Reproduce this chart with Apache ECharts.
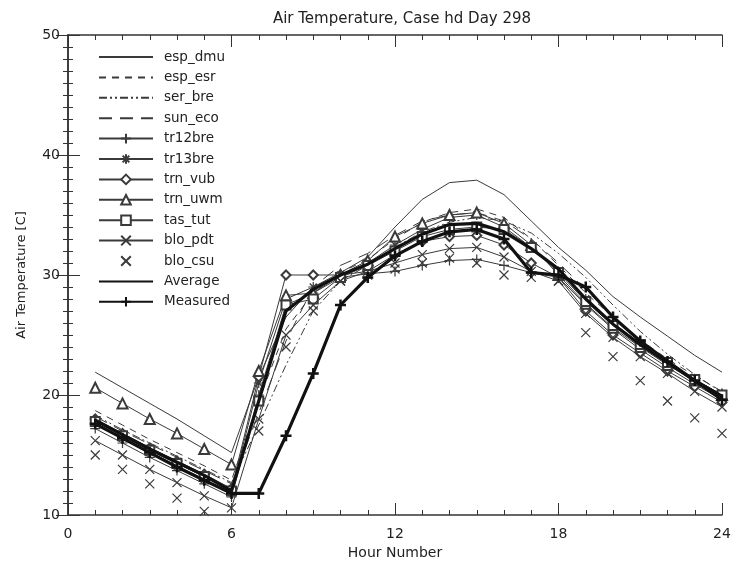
<!DOCTYPE html>
<html><head><meta charset="utf-8">
<script src="https://cdn.jsdelivr.net/npm/echarts@6/dist/echarts.min.js"></script>
<style>html,body{margin:0;padding:0;background:#fff}#c{width:741px;height:565px}</style>
</head><body><div id="c"></div>
<script>
const hours = [1,2,3,4,5,6,7,8,9,10,11,12,13,14,15,16,17,18,19,20,21,22,23,24];
const xTicks = [0,6,12,18,24];
const yTicks = [10,20,30,40,50];
const esp_dmu = [21.9,20.6,19.3,18.0,16.6,15.2,21.5,26.5,29.0,30.2,31.5,34.0,36.3,37.7,37.9,36.7,34.5,32.3,30.4,28.2,26.5,24.9,23.3,21.9];
const esp_esr = [18.7,17.5,16.3,15.2,14.1,12.9,19.5,25.5,28.5,30.2,31.3,33.0,34.4,35.2,35.5,34.8,33.0,30.8,28.5,26.5,24.6,23.0,21.6,20.3];
const ser_bre = [18.3,17.1,16.0,14.9,13.8,12.7,17.5,22.5,27.0,29.5,30.8,32.3,33.6,34.4,34.8,34.5,33.5,31.8,29.8,27.5,25.3,23.4,21.7,20.2];
const sun_eco = [18.2,17.0,15.9,14.8,13.7,12.6,18.5,24.5,29.0,30.8,31.8,33.3,34.5,35.0,35.2,34.5,33.0,31.0,28.8,26.5,24.5,22.8,21.2,19.8];
const tr12bre = [17.2,16.0,14.8,13.7,12.6,11.5,20.0,27.5,28.5,29.8,30.1,30.3,30.8,31.2,31.3,30.8,30.2,29.8,27.5,25.5,23.8,22.3,20.9,19.6];
const tr13bre = [17.8,16.6,15.4,14.3,13.2,12.0,21.0,28.0,29.0,30.0,31.0,32.5,33.8,34.8,35.0,34.0,32.3,30.3,28.0,26.0,24.3,22.8,21.3,20.0];
const trn_vub = [18.0,16.8,15.6,14.5,13.4,12.2,21.5,30.0,30.0,30.0,30.3,31.7,32.8,33.2,33.3,32.5,31.0,29.8,27.0,25.0,23.5,22.0,20.7,19.4];
const trn_uwm = [20.6,19.3,18.0,16.8,15.5,14.2,22.0,28.3,28.5,30.0,31.2,33.2,34.3,35.0,35.2,34.3,32.5,30.0,27.6,25.6,24.0,22.5,21.2,20.0];
const tas_tut = [17.8,16.6,15.4,14.3,13.2,12.0,19.5,27.5,28.0,29.8,30.8,32.0,33.2,33.8,34.0,33.8,32.3,30.2,27.8,25.8,24.2,22.7,21.3,20.0];
const blo_pdt = [16.2,15.0,13.8,12.7,11.6,10.6,18.0,25.0,27.5,29.5,30.3,31.0,31.7,32.2,32.3,31.5,30.3,29.5,26.8,24.8,23.2,21.8,20.3,19.0];
const blo_csu = [15.0,13.8,12.6,11.4,10.3,9.8,17.0,24.0,27.0,29.5,30.0,30.5,31.0,31.4,31.0,30.0,29.8,29.5,25.2,23.2,21.2,19.5,18.1,16.8];
const average = [17.9,16.7,15.5,14.4,13.3,12.0,19.5,27.0,28.8,30.0,30.9,32.2,33.4,34.2,34.3,33.6,32.2,30.5,28.0,25.9,24.2,22.7,21.2,19.9];
const measured = [17.6,16.4,15.2,14.0,12.9,11.8,11.8,16.6,21.8,27.5,29.8,31.6,32.8,33.6,33.8,33.0,30.2,30.0,29.0,26.5,24.5,22.8,21.2,19.6];

const PLUS = 'path://M0,5L10,5M5,0L5,10';
const STAR = 'path://M0,5L10,5M5,0L5,10M1.5,1.5L8.5,8.5M8.5,1.5L1.5,8.5';
const XMARK = 'path://M0,0L10,10M10,0L0,10';
const thin = '#3a3a3a', thick = '#111';

function pts(arr){ return hours.map((h,i)=>[h,arr[i]]); }
function mk(name, arr, opt){
  const hasSym = !!opt.symbol;
  return {
    name, type:'line', data: pts(arr), animation:false,
    symbol: opt.symbol || 'none', symbolSize: opt.size || 10,
    showSymbol: hasSym,
    lineStyle: {color: opt.color||thin, width: opt.width===undefined?1:opt.width, type: opt.type||'solid'},
    itemStyle: {color: opt.color||thin, borderColor: opt.color||thin, borderWidth: opt.bw||1.2, opacity: hasSym ? 1 : 0},
    z: opt.z || 2
  };
}
const series = [
  mk('esp_dmu', esp_dmu, {}),
  mk('esp_esr', esp_esr, {type:[7,6]}),
  mk('ser_bre', ser_bre, {type:[8,3,2,3,2,3]}),
  mk('sun_eco', sun_eco, {type:[13,8]}),
  mk('tr12bre', tr12bre, {symbol:PLUS}),
  mk('tr13bre', tr13bre, {symbol:STAR}),
  mk('trn_vub', trn_vub, {symbol:'emptyDiamond', size:9}),
  mk('trn_uwm', trn_uwm, {symbol:'emptyTriangle', size:10}),
  mk('tas_tut', tas_tut, {symbol:'emptyRect', size:9}),
  mk('blo_pdt', blo_pdt, {symbol:XMARK, size:9}),
  mk('blo_csu', blo_csu, {symbol:XMARK, size:9, width:0}),
  mk('Average', average, {width:3.2, color:thick, z:4}),
  mk('Measured', measured, {width:3.2, color:thick, symbol:PLUS, size:11, bw:2.5, z:5})
];

const axisFont = {fontFamily:'DejaVu Sans', fontSize:14, color:'#222'};
const chart = echarts.init(document.getElementById('c'), null, {renderer:'canvas'});
chart.setOption({
  backgroundColor:'#fff',
  animation:false,
  title:{text:'Air Temperature, Case hd Day 298', left:397, textAlign:'center', top:7,
    textStyle:{fontFamily:'DejaVu Sans', fontSize:15, fontWeight:'normal', color:'#222'}},
  grid:{left:68, right:19, top:35, bottom:50},
  legend:{
    orient:'vertical', left:93, top:45, itemWidth:54, itemHeight:12, itemGap:6.4,
    textStyle:{fontFamily:'DejaVu Sans', fontSize:13.5, color:'#222', padding:[0,0,0,6]},
    data: series.map(s=>s.name), selectedMode:false
  },
  xAxis:[{
    type:'value', min:xTicks[0], max:xTicks[xTicks.length-1], interval:6,
    name:'Hour Number', nameLocation:'middle', nameGap:24, nameTextStyle:axisFont,
    axisLine:{lineStyle:{color:'#333', width:1.5}},
    axisTick:{inside:true, length:12, lineStyle:{color:'#333'}},
    minorTick:{show:true, splitNumber:6, length:5, lineStyle:{color:'#333'}},
    axisLabel:Object.assign({margin:12}, axisFont),
    splitLine:{show:false}
  },{
    type:'value', position:'top', min:0, max:24, interval:6,
    axisLine:{lineStyle:{color:'#333', width:1.5}},
    axisTick:{inside:true, length:12, lineStyle:{color:'#333'}},
    minorTick:{show:true, splitNumber:6, length:5, lineStyle:{color:'#333'}},
    axisLabel:{show:false}, splitLine:{show:false}
  }],
  yAxis:[{
    type:'value', min:yTicks[0], max:yTicks[yTicks.length-1], interval:10,
    name:'Air Temperature [C]', nameLocation:'middle', nameGap:40, nameRotate:90,
    nameTextStyle:Object.assign({}, axisFont, {fontSize:13}),
    axisLine:{show:true, lineStyle:{color:'#333', width:1.5}},
    axisTick:{show:true, inside:true, length:12, lineStyle:{color:'#333'}},
    minorTick:{show:true, splitNumber:10, length:5, lineStyle:{color:'#333'}},
    axisLabel:Object.assign({margin:8}, axisFont),
    splitLine:{show:false}
  },{
    type:'value', position:'right', min:10, max:50, interval:10,
    axisLine:{show:true, lineStyle:{color:'#333', width:1.5}},
    axisTick:{show:true, inside:true, length:12, lineStyle:{color:'#333'}},
    minorTick:{show:true, splitNumber:10, length:5, lineStyle:{color:'#333'}},
    axisLabel:{show:false}, splitLine:{show:false}
  }],
  series: series
});
</script></body></html>
